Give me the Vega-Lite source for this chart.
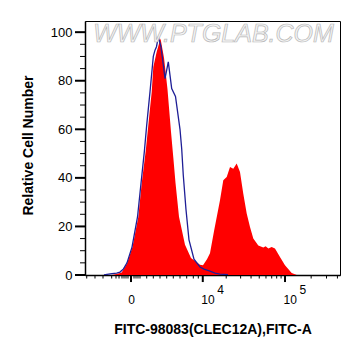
{
  "$schema": "https://vega.github.io/schema/vega-lite/v6.json",
  "width": 255,
  "height": 254,
  "autosize": {"type": "none"},
  "padding": {"left": 85, "top": 21, "right": 21, "bottom": 81},
  "background": "white",
  "config": {
    "view": {"stroke": "#000000", "strokeWidth": 1},
    "axis": {
      "domainColor": "#000000",
      "domainWidth": 1.5,
      "ticks": false,
      "labelColor": "#000000",
      "labelFont": "Liberation Sans",
      "titleFont": "Liberation Sans",
      "titleFontSize": 14,
      "titleFontWeight": "bold",
      "titleColor": "#000000",
      "grid": false,
      "labelOverlap": false,
      "labelFlush": false
    }
  },
  "datasets": {
    "sample": [
      {"x": -4207, "y": 0}, {"x": -1161, "y": 0}, {"x": -819, "y": 0.4}, {"x": -497, "y": 1.0},
      {"x": -198, "y": 4.7}, {"x": 72, "y": 11.5}, {"x": 380, "y": 23.9}, {"x": 582, "y": 37.7},
      {"x": 853, "y": 51.4}, {"x": 1123, "y": 66.6}, {"x": 1296, "y": 75.4}, {"x": 1429, "y": 85.7},
      {"x": 1730, "y": 91.9}, {"x": 2099, "y": 97.4}, {"x": 2473, "y": 89.5}, {"x": 2882, "y": 76.5},
      {"x": 3332, "y": 59}, {"x": 3650, "y": 48.5}, {"x": 3974, "y": 38}, {"x": 4529, "y": 24},
      {"x": 5607, "y": 12.5}, {"x": 6867, "y": 7}, {"x": 9171, "y": 4.2}, {"x": 10066, "y": 4.0},
      {"x": 11376, "y": 6.5}, {"x": 12452, "y": 9}, {"x": 14033, "y": 18}, {"x": 16722, "y": 30.8},
      {"x": 18396, "y": 39}, {"x": 20286, "y": 40.4}, {"x": 22284, "y": 44.5}, {"x": 24444, "y": 43.8},
      {"x": 26892, "y": 45.9}, {"x": 29484, "y": 42.4}, {"x": 32310, "y": 33.5}, {"x": 35496, "y": 25.3},
      {"x": 38862, "y": 19.8}, {"x": 42534, "y": 15.0}, {"x": 48726, "y": 12.2}, {"x": 55800, "y": 11.3},
      {"x": 59526, "y": 11.8}, {"x": 63864, "y": 10.9}, {"x": 69966, "y": 11.5}, {"x": 76428, "y": 10.9},
      {"x": 87408, "y": 7.4}, {"x": 99882, "y": 4.0}, {"x": 119394, "y": 0.8}, {"x": 136368, "y": 0},
      {"x": 427900, "y": 0}
    ],
    "control": [
      {"x": -1851, "y": 0}, {"x": -1575, "y": 0.3}, {"x": -1161, "y": 0.6}, {"x": -819, "y": 0.8},
      {"x": -601, "y": 1.2}, {"x": -391, "y": 2.5}, {"x": -198, "y": 5}, {"x": 48, "y": 11.5},
      {"x": 335, "y": 23.9}, {"x": 538, "y": 37.7}, {"x": 751, "y": 50.7}, {"x": 916, "y": 61.7},
      {"x": 1161, "y": 75.4}, {"x": 1429, "y": 90}, {"x": 1575, "y": 92.6}, {"x": 1710, "y": 94},
      {"x": 1881, "y": 98.1}, {"x": 2150, "y": 93.9}, {"x": 2587, "y": 80.9}, {"x": 2982, "y": 87.8},
      {"x": 3427, "y": 76.8}, {"x": 3974, "y": 73.5}, {"x": 4698, "y": 60}, {"x": 4993, "y": 52},
      {"x": 5285, "y": 41}, {"x": 5801, "y": 27}, {"x": 6422, "y": 14.5}, {"x": 7576, "y": 6.5},
      {"x": 9171, "y": 3.3}, {"x": 10383, "y": 2.4}, {"x": 12452, "y": 1.6}, {"x": 14452, "y": 0.8},
      {"x": 16722, "y": 0.4}, {"x": 21042, "y": 0.1}
    ],
    "watermark": [
      {"x": 13829, "y": 99.4, "t": "WWW.PTGLAB.COM"}
    ],
    "xmajor": [{"v": 0}, {"v": 10000}, {"v": 100000}],
    "xminor": [
      {"v": -3942}, {"v": -2823}, {"v": -1948}, {"v": -1185}, {"v": -866}, {"v": -664}, {"v": -479},
      {"v": -362}, {"v": -252}, {"v": -148}, {"v": 148}, {"v": 252}, {"v": 362}, {"v": 479},
      {"v": 916}, {"v": 1429}, {"v": 2048}, {"v": 2785}, {"v": 3650}, {"v": 4698}, {"v": 5944},
      {"v": 7407}, {"v": 8696}, {"v": 20000}, {"v": 30000}, {"v": 40000}, {"v": 50000}, {"v": 60000},
      {"v": 70000}, {"v": 80000}, {"v": 90000}, {"v": 200000}, {"v": 300000}, {"v": 400000}
    ],
    "ymajor": [{"v": 0}, {"v": 20}, {"v": 40}, {"v": 60}, {"v": 80}, {"v": 100}],
    "yminor": [
      {"v": 5}, {"v": 10}, {"v": 15}, {"v": 25}, {"v": 30}, {"v": 35}, {"v": 45}, {"v": 50},
      {"v": 55}, {"v": 65}, {"v": 70}, {"v": 75}, {"v": 85}, {"v": 90}, {"v": 95}
    ]
  },
  "resolve": {"axis": {"x": "independent", "y": "independent"}},
  "layer": [
    {
      "data": {"name": "sample"},
      "mark": {"type": "area", "color": "#ff0000", "interpolate": "linear", "clip": true},
      "encoding": {
        "x": {
          "field": "x",
          "type": "quantitative",
          "scale": {"type": "symlog", "constant": 1800, "domain": [-4207, 427900], "nice": false},
          "axis": {
            "orient": "bottom",
            "title": "FITC-98083(CLEC12A),FITC-A",
            "values": [10000, 100000],
            "labelExpr": "'10'",
            "labelAlign": "left",
            "labelOffset": -2,
            "labelBaseline": "top",
            "labelFontSize": 12,
            "labelPadding": 19,
            "titleX": 127.5,
            "titleY": 58,
            "titleBaseline": "alphabetic"
          }
        },
        "y": {
          "field": "y",
          "type": "quantitative",
          "stack": null,
          "scale": {"domain": [0, 104.6], "nice": false, "zero": false},
          "axis": {
            "orient": "left",
            "title": "Relative Cell Number",
            "values": [0, 20, 40, 60, 80, 100],
            "labelFontSize": 13,
            "labelPadding": 13,
            "titleX": -53,
            "titleY": 124,
            "titleAngle": -90,
            "titleBaseline": "alphabetic"
          }
        }
      }
    },
    {
      "data": {"name": "control"},
      "mark": {"type": "line", "color": "#1e1e96", "strokeWidth": 1.3, "interpolate": "linear", "clip": true},
      "encoding": {
        "x": {
          "field": "x",
          "type": "quantitative",
          "axis": {
            "orient": "bottom",
            "title": null,
            "domain": false,
            "values": [0],
            "labelExpr": "'0'",
            "labelAlign": "center",
            "labelBaseline": "top",
            "labelFontSize": 12,
            "labelPadding": 19
          }
        },
        "y": {"field": "y", "type": "quantitative", "axis": null}
      }
    },
    {
      "data": {"name": "watermark"},
      "mark": {"type": "text", "font": "Liberation Sans", "fontSize": 25, "fontStyle": "italic", "fill": "#f4f4f4", "stroke": "#b8b8b8", "strokeWidth": 0.7, "align": "center", "baseline": "middle"},
      "encoding": {
        "x": {
          "field": "x",
          "type": "quantitative",
          "axis": {
            "orient": "bottom",
            "title": null,
            "domain": false,
            "values": [10000, 100000],
            "labelExpr": "datum.value == 10000 ? '4' : '5'",
            "labelAlign": "left",
            "labelOffset": 14,
            "labelBaseline": "top",
            "labelFontSize": 12,
            "labelPadding": 9
          }
        },
        "y": {"field": "y", "type": "quantitative", "axis": null},
        "text": {"field": "t"}
      }
    },
    {
      "data": {"name": "xmajor"},
      "mark": {"type": "rule", "color": "#000000", "strokeWidth": 2, "opacity": 1, "clip": false},
      "encoding": {
        "x": {"field": "v", "type": "quantitative", "axis": null},
        "y": {"datum": 0, "type": "quantitative", "axis": null},
        "y2": {"datum": -2.9}
      }
    },
    {
      "data": {"name": "xminor"},
      "mark": {"type": "rule", "color": "#000000", "strokeWidth": 1, "opacity": 1, "clip": false},
      "encoding": {
        "x": {"field": "v", "type": "quantitative", "axis": null},
        "y": {"datum": 0, "type": "quantitative", "axis": null},
        "y2": {"datum": -1.45}
      }
    },
    {
      "data": {"name": "ymajor"},
      "mark": {"type": "rule", "color": "#000000", "strokeWidth": 2, "opacity": 1, "clip": false},
      "encoding": {
        "y": {"field": "v", "type": "quantitative", "axis": null},
        "x": {"datum": -4207, "type": "quantitative", "axis": null},
        "x2": {"datum": -6003}
      }
    },
    {
      "data": {"name": "yminor"},
      "mark": {"type": "rule", "color": "#000000", "strokeWidth": 1, "opacity": 1, "clip": false},
      "encoding": {
        "y": {"field": "v", "type": "quantitative", "axis": null},
        "x": {"datum": -4207, "type": "quantitative", "axis": null},
        "x2": {"datum": -5040}
      }
    }
  ]
}
